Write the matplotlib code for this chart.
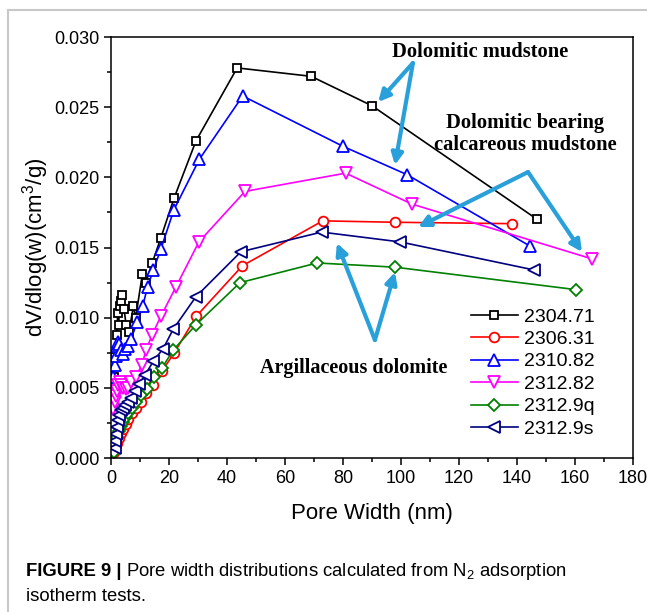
import matplotlib
matplotlib.use("Agg")
import matplotlib.pyplot as plt
from matplotlib.lines import Line2D

plt.rcParams['font.family'] = ['Liberation Sans', 'DejaVu Sans']
plt.rcParams['mathtext.fontset'] = 'custom'
plt.rcParams['mathtext.rm'] = 'Liberation Sans'
plt.rcParams['mathtext.it'] = 'Liberation Sans:italic'

# data
labels = ['2304.71', '2306.31', '2310.82', '2312.82', '2312.9q', '2312.9s']

x_2304_71 = [1.0, 1.5, 2.0, 2.3, 2.6, 3.0, 3.4, 3.9, 4.5, 5.2, 6.2, 7.7, 8.5, 10.8, 12.0, 14.2, 17.2, 21.7, 29.3, 43.5, 69.0, 90.0, 147.0]
y_2304_71 = [0.0058, 0.0072, 0.0088, 0.0103, 0.0095, 0.0108, 0.0112, 0.0116, 0.0106, 0.0095, 0.0090, 0.0108, 0.0100, 0.0131, 0.0125, 0.0139, 0.0157, 0.0185, 0.0226, 0.0278, 0.0272, 0.0251, 0.0170]

x_2306_31 = [1.0, 1.5, 2.0, 2.6, 3.3, 4.1, 5.0, 6.0, 7.2, 8.6, 10.2, 12.2, 14.6, 17.6, 21.8, 29.4, 45.3, 73.0, 97.9, 138.2]
y_2306_31 = [0.0004, 0.0008, 0.0011, 0.0014, 0.0018, 0.0021, 0.0024, 0.0028, 0.0032, 0.0036, 0.0040, 0.0046, 0.0052, 0.0062, 0.0075, 0.0101, 0.0137, 0.0169, 0.0168, 0.0167]

x_2310_82 = [0.8, 1.2, 1.6, 2.0, 2.4, 2.9, 3.4, 4.0, 4.8, 5.7, 6.9, 9.1, 10.9, 12.6, 14.6, 17.2, 21.7, 30.5, 45.4, 80.1, 102.0, 144.5]
y_2310_82 = [0.0058, 0.0066, 0.0073, 0.0080, 0.0083, 0.0081, 0.0077, 0.0074, 0.0078, 0.0080, 0.0085, 0.0097, 0.0108, 0.0122, 0.0134, 0.0149, 0.0177, 0.0213, 0.0258, 0.0222, 0.0202, 0.0151]

x_2312_82 = [0.8, 1.2, 1.6, 2.0, 2.5, 3.0, 3.6, 4.3, 5.0, 5.8, 7.0, 8.5, 10.6, 12.1, 14.2, 17.2, 22.4, 30.3, 46.2, 80.9, 103.7, 165.7]
y_2312_82 = [0.0035, 0.0040, 0.0044, 0.0048, 0.0052, 0.0054, 0.0052, 0.0050, 0.0049, 0.0050, 0.0054, 0.0058, 0.0066, 0.0077, 0.0088, 0.0101, 0.0122, 0.0154, 0.0190, 0.0203, 0.0181, 0.0142]

x_2312_9q = [1.0, 1.5, 2.0, 2.6, 3.3, 4.1, 5.0, 6.0, 7.2, 8.6, 10.4, 12.5, 14.8, 17.5, 21.5, 29.3, 44.5, 71.1, 97.9, 160.3]
y_2312_9q = [0.0004, 0.0010, 0.0015, 0.0019, 0.0023, 0.0026, 0.0029, 0.0032, 0.0036, 0.0040, 0.0045, 0.0049, 0.0058, 0.0064, 0.0077, 0.0095, 0.0125, 0.0139, 0.0136, 0.0120]

x_2312_9s = [1.2, 1.5, 1.8, 2.1, 2.5, 2.9, 3.4, 4.0, 4.8, 5.7, 6.8, 8.2, 9.8, 11.7, 14.6, 18.0, 21.5, 29.3, 44.8, 72.6, 99.7, 145.9]
y_2312_9s = [0.0007, 0.0012, 0.0017, 0.0022, 0.0027, 0.0031, 0.0034, 0.0036, 0.0038, 0.0040, 0.0043, 0.0048, 0.0053, 0.0059, 0.0069, 0.0078, 0.0092, 0.0115, 0.0147, 0.0161, 0.0154, 0.0134]

xs = [x_2304_71, x_2306_31, x_2310_82, x_2312_82, x_2312_9q, x_2312_9s]
ys = [y_2304_71, y_2306_31, y_2310_82, y_2312_82, y_2312_9q, y_2312_9s]
colors = ['#000000', '#ff0000', '#0000ff', '#ff00ff', '#008000', '#000080']
markers = ['s', 'o', '^', 'v', 'D', '<']
msizes = [6, 7, 8, 8, 6.5, 8]

fig = plt.figure(figsize=(6.47, 6.12), dpi=100)
ax = fig.add_axes([0.1716, 0.2516, 0.8068, 0.6879])

for x, y, c, m, s, lab in zip(xs, ys, colors, markers, msizes, labels):
    ax.plot(x, y, color=c, marker=m, ms=s, mfc='white', mec=c, mew=1.3, lw=1.2, label=lab)

ax.set_xlim(0, 180)
ax.set_ylim(0, 0.030)
ax.set_xticks(range(0, 181, 20))
ax.set_xticks(range(10, 180, 20), minor=True)
ax.set_yticks([0, 0.005, 0.010, 0.015, 0.020, 0.025, 0.030])
ax.set_yticks([0.0025, 0.0075, 0.0125, 0.0175, 0.0225, 0.0275], minor=True)
ax.set_yticklabels(['0.000', '0.005', '0.010', '0.015', '0.020', '0.025', '0.030'])
ax.tick_params(which='both', direction='out', labelsize=13, width=1.1)
ax.tick_params(which='major', length=5)
ax.tick_params(which='minor', length=3)
for sp in ax.spines.values():
    sp.set_linewidth(1.1)

ax.set_xlabel('Pore Width (nm)', fontsize=16, labelpad=12)
ax.set_ylabel(r'dV/dlog(w)(cm$^3$/g)', fontsize=16, labelpad=2)

ax.legend(loc='upper left', bbox_to_anchor=(0.675, 0.375), frameon=False, fontsize=14,
          handlelength=2.4, labelspacing=0.25, handletextpad=0.3, borderaxespad=0)

# annotations
arrow_c = '#2aa0da'
serif = ['Liberation Serif', 'DejaVu Serif']
ax.text(127.2, 0.02893, 'Dolomitic mudstone', family=serif, weight='bold', fontsize=14.8,
        ha='center', va='center')
ax.text(142.8, 0.02309, 'Dolomitic bearing\ncalcareous mudstone', family=serif, weight='bold',
        fontsize=14.8, ha='center', va='center', linespacing=1.12)
ax.text(83.8, 0.00641, 'Argillaceous dolomite', family=serif, weight='bold', fontsize=14.5,
        ha='center', va='center')

arrows = [
    ((104.1, 0.02815), (92.1, 0.02537)),
    ((104.1, 0.02815), (97.9, 0.02088)),
    ((143.8, 0.02038), (105.9, 0.01646)),
    ((143.8, 0.02038), (162.4, 0.01468)),
    ((91.0, 0.00841), (77.9, 0.01532)),
    ((91.0, 0.00841), (97.9, 0.01325)),
]
for start, end in arrows:
    ax.annotate('', xy=end, xytext=start,
                arrowprops=dict(arrowstyle='-|>', color=arrow_c, lw=3, mutation_scale=17,
                                shrinkA=0, shrinkB=0))

# frame lines around the figure panel
fig.add_artist(Line2D([8/647, 8/647], [0, 1 - 10/612], color='#c8c8c8', lw=1.5))
fig.add_artist(Line2D([8/647, 1], [1 - 10/612, 1 - 10/612], color='#c8c8c8', lw=1.5))

# caption
t1 = fig.text(26/647, 1 - 576/612, 'FIGURE 9 |', fontsize=13.3, weight='bold', va='baseline')
fig.canvas.draw()
bb = t1.get_window_extent()
x2 = (bb.x1 + 4) / fig.bbox.width
fig.text(x2, 1 - 576/612, r'Pore width distributions calculated from N$_2$ adsorption',
         fontsize=13.3, va='baseline')
fig.text(26/647, 1 - 601/612, 'isotherm tests.', fontsize=13.3, va='baseline')

fig.savefig('out.png', dpi=100)
